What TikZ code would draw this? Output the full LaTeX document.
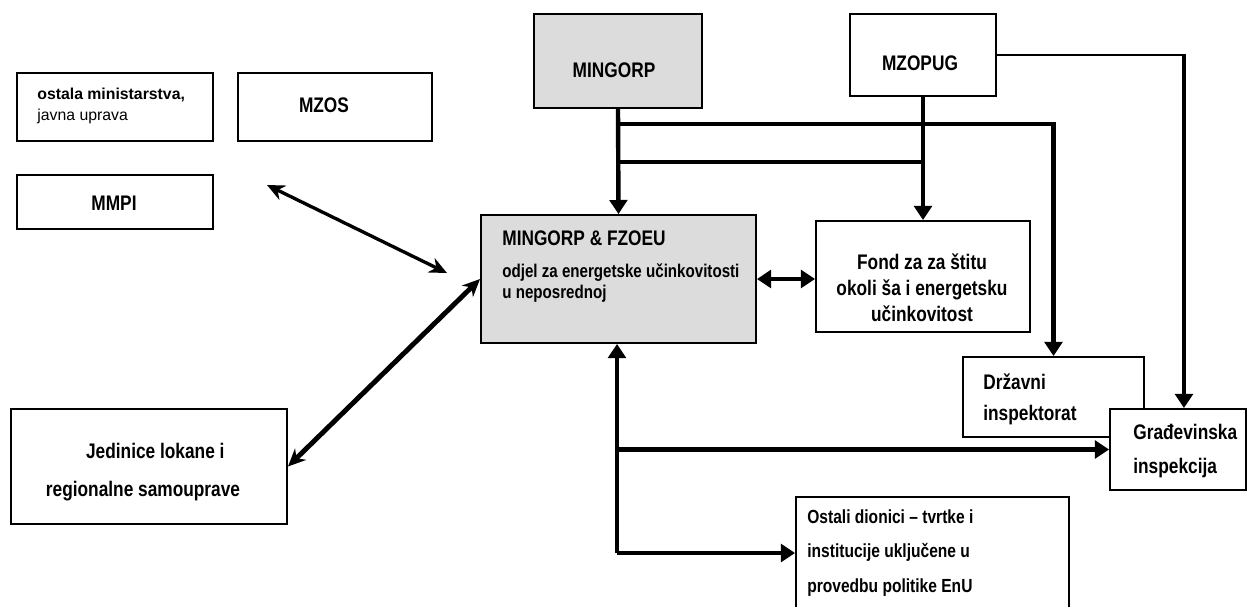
\documentclass[tikz,border=0pt]{standalone}
\usepackage{fontspec}
\setmainfont{Liberation Sans}
\newfontfamily\narrowfont[FakeStretch=0.82]{Liberation Sans}
\usetikzlibrary{arrows.meta,positioning}
\definecolor{boxgrey}{HTML}{DCDCDC}
\newdimen\pxu \pxu=0.02cm
\tikzset{
  box/.style={draw, line width=1.1pt, fill=white, inner sep=0pt},
  greybox/.style={box, fill=boxgrey},
  conn/.style={line width=2.5pt},
  tip/.style={-{Triangle[length=8pt,width=10pt]}},
  lbl/.style={inner sep=0pt, font=\narrowfont\bfseries\fontsize{12}{14.7}\selectfont}
}
\begin{document}
\begin{tikzpicture}[x=0.02cm, y=-0.02cm]
    \useasboundingbox (0,0) rectangle (1247,606);

    % Ministarstva lijevo
    \node[box, minimum width=196\pxu, minimum height=68\pxu] (osta) at (115,107) {};
    \node[anchor=west, align=left, inner sep=0pt, font=\fontsize{9}{12}\selectfont] (ostatxt) at (37,106) {\textbf{ostala ministarstva,}\\javna uprava};
    \node[box, minimum width=194\pxu, minimum height=68\pxu] (mzos) at (335,107) {};
    \node[lbl] (mzostxt) at (324,105) {MZOS};
    \node[box, minimum width=196\pxu, minimum height=54\pxu] (mmpi) at (115,202) {};
    \node[lbl] (mmpitxt) at (114,203) {MMPI};

    % Gornji blokovi
    \node[greybox, minimum width=168\pxu, minimum height=94\pxu] (mingorp) at (618,61) {};
    \node[lbl] (mingorptxt) at (614,70) {MINGORP};
    \node[box, minimum width=146\pxu, minimum height=82\pxu] (mzopug) at (923,55) {};
    \node[lbl] (mzopugtxt) at (920,63) {MZOPUG};

    % Sredisnji blok i fond
    \node[greybox, minimum width=275\pxu, minimum height=128\pxu] (fzoeu) at (618.5,279) {};
    \node[lbl, anchor=west] (fzoeutxt) at (502,238) {MINGORP \& FZOEU};
    \node[lbl, anchor=west, align=left, font=\narrowfont\bfseries\fontsize{10.5}{12}\selectfont] (odjeltxt) at (502,283) {odjel za energetske učinkovitosti\\u neposrednoj};
    \node[box, minimum width=214\pxu, minimum height=111\pxu] (fond) at (923,276.5) {};
    \node[lbl, align=center] (fondtxt) at (922,288) {Fond za za štitu\\okoli ša i energetsku\\učinkovitost};

    % Inspekcije
    \node[box, minimum width=181\pxu, minimum height=80\pxu] (drzavni) at (1053.5,397) {};
    \node[lbl, anchor=west, align=left, font=\narrowfont\bfseries\fontsize{12}{17.6}\selectfont] (drzavnitxt) at (983,399) {Državni\\inspektorat};
    \node[box, minimum width=136\pxu, minimum height=81\pxu] (gradj) at (1178,449.5) {};
    \node[lbl, anchor=west, align=left, font=\narrowfont\bfseries\fontsize{12}{19}\selectfont] (gradjtxt) at (1133,451) {Građevinska\\inspekcija};

    % Donji blokovi
    \node[box, minimum width=276\pxu, minimum height=115\pxu] (jed) at (149,466.5) {};
    \node[lbl, align=center, font=\narrowfont\bfseries\fontsize{12}{21.5}\selectfont] (jedtxt) at (143,472) {\hspace*{14pt}Jedinice lokane i\\regionalne samouprave};
    \node[box, minimum width=273\pxu, minimum height=115\pxu] (ostali) at (932.5,554.5) {};
    \node[lbl, anchor=west, align=left, font=\narrowfont\bfseries\fontsize{10.8}{19.5}\selectfont] (ostalitxt) at (807,553) {Ostali dionici – tvrtke i\\institucije uključene u\\provedbu politike EnU};

    % Veze od ministarstava
    \draw[conn, tip] (mingorp.south) -- (fzoeu.north);
    \coordinate (j1) at (618,124);
    \coordinate (j2) at (618,162);
    \draw[conn, tip] (j1) -| (drzavni.north);
    \draw[conn] (j2) -- (j2 -| mzopug.south);
    \draw[conn, tip] (mzopug.south) -- (fond.north);
    \draw[line width=1.3pt] (mzopug.east) -- ++(187,0) coordinate (k);
    \draw[conn, tip] ([yshift=0.65pt]k) -- (k |- gradj.north);

    % Dvosmjerne veze
    \draw[conn, {Triangle[length=8pt,width=10pt]}-{Triangle[length=8pt,width=10pt]}] (fzoeu.east) -- (fzoeu.east -| fond.west);
    \coordinate (d1) at (267,185);
    \coordinate (d2) at (447,273);
    \draw[line width=1.9pt, {Stealth[length=10pt,width=9pt]}-{Stealth[length=10pt,width=9pt]}] (d1) -- (d2);
    \draw[line width=2.8pt, {Stealth[length=10pt,width=9pt]}-{Stealth[length=10pt,width=9pt]}] (jed.east) -- (fzoeu.west);

    % Veze prema dolje
    \coordinate (b) at (617,553);
    \draw[conn, tip] (b) -- (fzoeu.south -| b);
    \draw[conn, tip] (b |- gradj.west) -- (gradj.west);
    \draw[conn, tip] (b) -- (b -| ostali.west);
\end{tikzpicture}
\end{document}
